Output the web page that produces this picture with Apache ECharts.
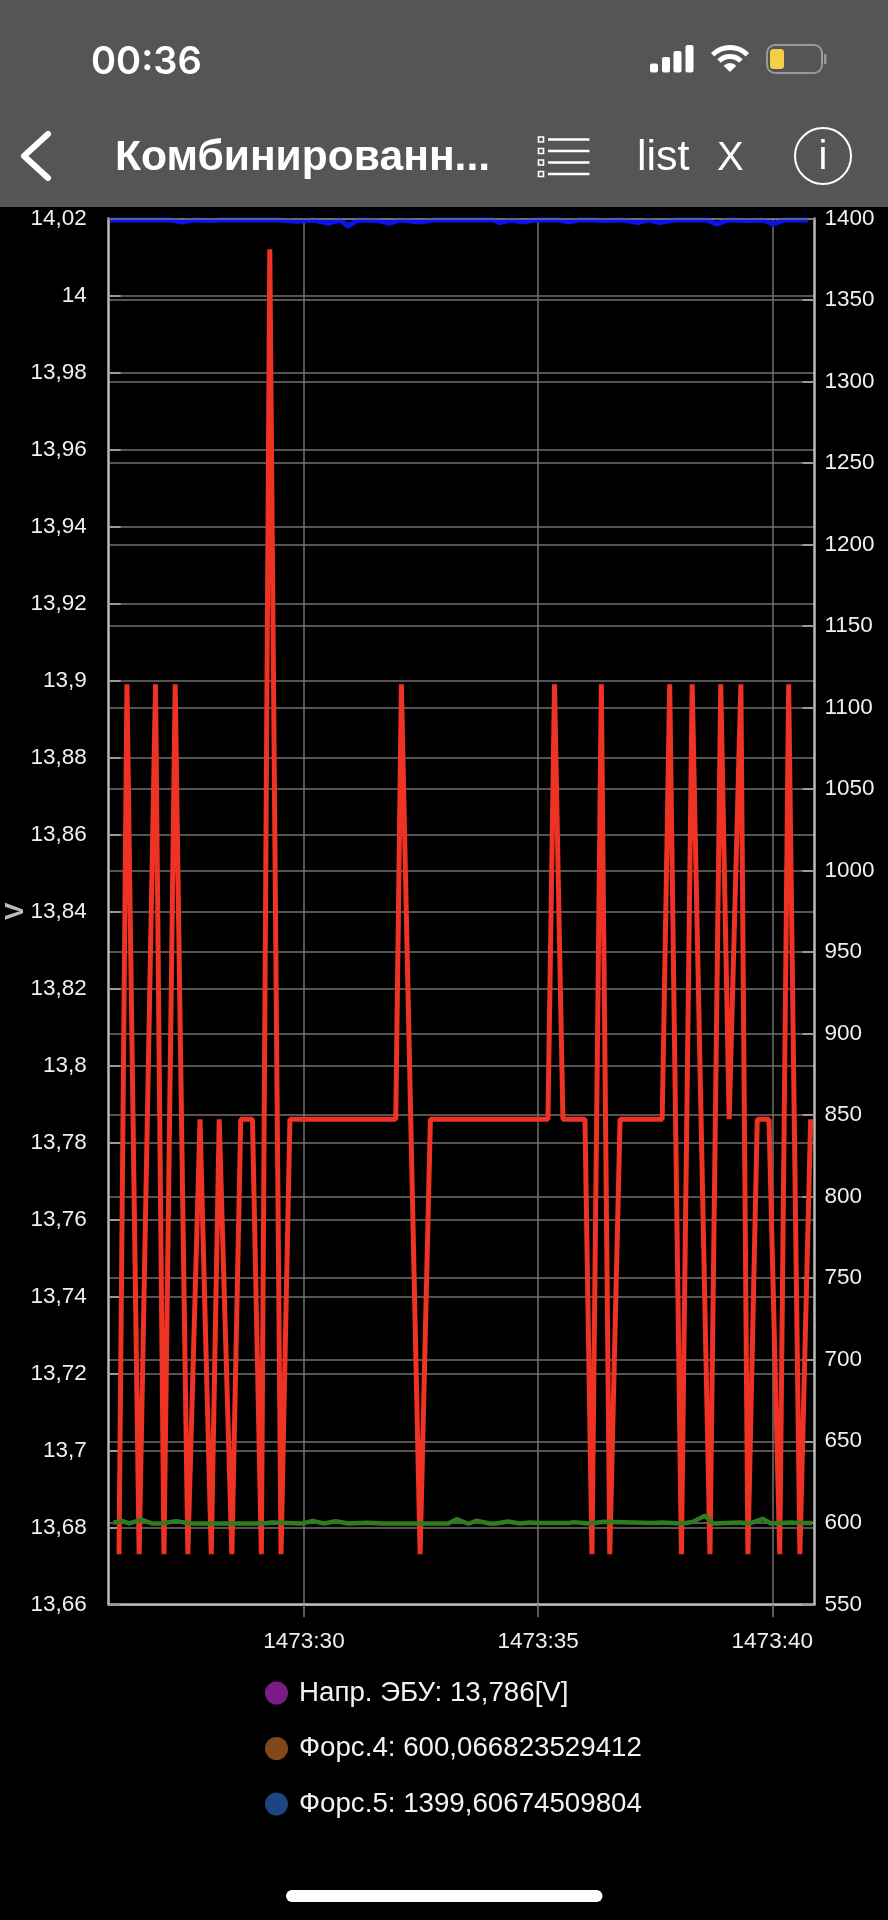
<!DOCTYPE html>
<html>
<head>
<meta charset="utf-8">
<style>html,body{margin:0;padding:0;background:#000}#c{width:888px;height:1920px}</style>
<script src="https://cdn.jsdelivr.net/npm/echarts@6/dist/echarts.min.js"></script>
</head>
<body>
<div id="c"></div>
<script>
// Seconds past minute 1473
const voltTimes = [26.05,26.22,26.48,26.83,27.01,27.25,27.52,27.78,28.02,28.19,28.46,28.65,28.90,29.09,29.27,29.51,29.70,31.96,32.08,32.48,32.70,35.21,35.35,35.53,36.00,36.15,36.35,36.53,36.75,37.65,37.81,38.06,38.29,38.67,38.90,39.08,39.33,39.48,39.68,39.93,40.16,40.35,40.59,40.82];
const voltValues = [13.673,13.899,13.673,13.899,13.673,13.899,13.673,13.786,13.673,13.786,13.673,13.786,13.786,13.673,14.012,13.673,13.786,13.786,13.899,13.673,13.786,13.786,13.899,13.786,13.786,13.673,13.899,13.673,13.786,13.786,13.899,13.673,13.899,13.673,13.899,13.786,13.899,13.673,13.786,13.786,13.673,13.899,13.673,13.786];
const inj4Times = [25.93,26.11,26.27,26.53,26.75,26.96,27.27,27.57,29.13,29.31,29.98,30.18,30.43,30.68,30.94,31.34,31.69,33.08,33.26,33.51,33.68,33.97,34.11,34.36,34.61,34.82,35.0,35.64,35.75,36.07,36.42,37.45,37.63,38.09,38.31,38.56,38.74,39.31,39.52,39.80,39.98,40.37,40.58,40.85];
const inj4Values = [600.0,601.2,599.6,602.0,599.6,599.6,601.0,599.6,599.6,600.2,599.6,601.2,599.6,601.0,599.6,600.0,599.6,599.6,602.2,599.4,601.2,599.6,599.6,600.8,599.6,600.2,599.8,599.8,600.4,599.6,600.6,599.8,600.2,599.6,600.6,604.3,599.6,600.2,599.6,602.4,599.6,600.2,599.8,599.8];
const inj5Times = [25.86,27.17,27.39,27.64,28.06,28.2,29.42,29.84,30.2,30.52,30.77,30.94,31.16,31.55,31.83,32.05,32.47,32.76,34.04,34.18,34.43,34.68,34.93,35.46,35.64,35.89,36.17,36.39,36.81,37.13,37.35,37.60,37.92,38.59,38.81,39.06,39.52,39.80,40.01,40.26,40.76];
const inj5Values = [1399.1,1399.1,1397.9,1399.1,1398.7,1399.1,1399.1,1398.3,1399.1,1397.1,1399.1,1395.4,1399.1,1398.7,1397.1,1399.1,1397.9,1399.1,1399.1,1397.5,1399.1,1397.9,1399.1,1399.1,1397.9,1399.1,1399.1,1398.7,1399.1,1397.5,1399.0,1397.5,1399.1,1399.1,1396.6,1399.1,1398.7,1399.1,1396.6,1399.1,1399.1];
const xTicks = [30,35,40];
const minuteLabel = '1473';
const seriesNames = ['Напр. ЭБУ: 13,786[V]','Форс.4: 600,066823529412','Форс.5: 1399,60674509804'];
const legendColors = ['#7B1C86','#82481C','#1C4680'];
const lineColors = ['#EE3224','#2E7D1F','#0A14F0'];

const zip = (a,b) => a.map((v,i)=>[v,b[i]]);
const white='#fff', hdr='#555555', FONT='"Liberation Sans",sans-serif';
const lineCom={color:'#707070',width:1.5};
const comma=v=>String(+(+v).toFixed(2)).replace('.',',');

const chart=echarts.init(document.getElementById('c'),null,{renderer:'canvas',width:888,height:1920});
const g=[];
g.push({type:'rect',shape:{x:0,y:0,width:888,height:207},style:{fill:hdr},z:10});
g.push({type:'text',x:91,y:62.5,z:11,style:{text:'00:36',fill:white,font:'600 38px Inter',textVerticalAlign:'middle'}});
[[650,63.5],[662,57],[673.5,51],[685.5,45]].forEach(b=>g.push({type:'rect',z:11,shape:{x:b[0],y:b[1],width:8,height:72.5-b[1],r:2},style:{fill:white}}));
g.push({type:'arc',z:11,shape:{cx:730,cy:72,r:24.5,startAngle:-Math.PI*0.75,endAngle:-Math.PI*0.25},style:{stroke:white,lineWidth:5,fill:null}});
g.push({type:'arc',z:11,shape:{cx:730,cy:72,r:15.5,startAngle:-Math.PI*0.75,endAngle:-Math.PI*0.25},style:{stroke:white,lineWidth:5,fill:null}});
g.push({type:'sector',z:11,shape:{cx:730,cy:72,r0:0,r:9,startAngle:-Math.PI*0.75,endAngle:-Math.PI*0.25},style:{fill:white}});
g.push({type:'rect',z:11,shape:{x:767,y:45,width:55,height:28,r:8},style:{stroke:'#999',lineWidth:2,fill:null}});
g.push({type:'rect',z:11,shape:{x:770,y:49,width:14,height:20,r:3.5},style:{fill:'#F5CF45'}});
g.push({type:'rect',z:11,shape:{x:824,y:54,width:2.5,height:10,r:1},style:{fill:'#999'}});
g.push({type:'polyline',z:11,shape:{points:[[48,134],[24,156],[48,178]]},style:{stroke:white,lineWidth:6,fill:null,lineCap:'round',lineJoin:'round'}});
g.push({type:'text',x:115,y:158.5,z:11,style:{text:'Комбинированн...',fill:white,font:'bold 42.6px '+FONT,textVerticalAlign:'middle'}});
[139.5,151,162.5,174].forEach(y=>{
  g.push({type:'rect',z:11,shape:{x:538.5,y:y-2.5,width:5,height:5},style:{stroke:white,lineWidth:1.6,fill:null}});
  g.push({type:'line',z:11,shape:{x1:548,y1:y,x2:589.5,y2:y},style:{stroke:white,lineWidth:2.4}});
});
g.push({type:'text',x:637,y:158.5,z:11,style:{text:'list',fill:white,font:'43px '+FONT,textVerticalAlign:'middle'}});
g.push({type:'text',x:717,y:158.5,z:11,style:{text:'X',fill:white,font:'40px '+FONT,textVerticalAlign:'middle'}});
g.push({type:'circle',z:11,shape:{cx:823,cy:156,r:28},style:{stroke:white,lineWidth:2,fill:null}});
g.push({type:'text',x:823,y:158,z:11,style:{text:'i',fill:white,font:'40px '+FONT,textAlign:'center',textVerticalAlign:'middle'}});
g.push({type:'rect',z:11,shape:{x:286,y:1890,width:316.5,height:12,r:6},style:{fill:white}});

chart.setOption({
  animation:false,
  backgroundColor:'#000',
  textStyle:{fontFamily:FONT},
  grid:{left:108.7,right:73.6,top:218.5,bottom:315.7,outerBoundsMode:'none'},
  legend:{
    orient:'vertical',left:260,top:1674,itemWidth:35,itemHeight:23,itemGap:27.5,
    selectedMode:false,
    textStyle:{color:'#f2f2f2',fontSize:27.7,lineHeight:23,fontFamily:FONT},
    data:seriesNames.map((n,i)=>({name:n,icon:'circle',itemStyle:{color:legendColors[i],borderWidth:0}}))
  },
  xAxis:[{
    type:'value',min:25.83,max:40.9,interval:5,position:'bottom',
    axisLine:{lineStyle:{color:'#bbb',width:2.5}},
    axisTick:{length:13,customValues:xTicks,lineStyle:{color:'#777',width:1.5}},
    axisLabel:{customValues:xTicks,margin:26,color:'#f0f0f0',fontSize:22.5,formatter:v=>minuteLabel+':'+v},
    splitLine:{show:true,lineStyle:lineCom}
  },{
    type:'value',min:25.83,max:40.9,position:'top',z:5,
    axisLine:{show:true,lineStyle:{color:'#777',width:1.5}},
    axisTick:{show:false},axisLabel:{show:false},splitLine:{show:false}
  }],
  yAxis:[{
    type:'value',min:13.66,max:14.02,interval:0.02,position:'left',
    name:'V',nameLocation:'middle',nameRotate:90,nameGap:80,nameMoveOverlap:false,
    nameTextStyle:{color:'#bbb',fontSize:26,fontWeight:'bold'},
    axisLine:{show:true,lineStyle:{color:'#bbb',width:2.5}},
    axisTick:{show:true,inside:true,length:12,lineStyle:{color:'#999',width:2}},
    axisLabel:{margin:22,color:'#f0f0f0',fontSize:22.5,padding:[4,0,0,0],formatter:comma},
    splitLine:{show:true,lineStyle:lineCom}
  },{
    type:'value',min:550,max:1400,interval:50,position:'right',
    axisLine:{show:true,lineStyle:{color:'#bbb',width:2.5}},
    axisTick:{show:true,inside:true,length:12,lineStyle:{color:'#999',width:2}},
    axisLabel:{margin:10,color:'#f0f0f0',fontSize:22.5,padding:[4,0,0,0],formatter:v=>String(v)},
    splitLine:{show:true,lineStyle:lineCom}
  }],
  series:[
    {name:seriesNames[0],type:'line',yAxisIndex:0,showSymbol:false,symbol:'none',z:3,
     lineStyle:{color:lineColors[0],width:5,join:'bevel',cap:'butt'},itemStyle:{color:lineColors[0]},
     data:zip(voltTimes,voltValues)},
    {name:seriesNames[1],type:'line',yAxisIndex:1,showSymbol:false,symbol:'none',z:4,
     lineStyle:{color:lineColors[1],width:4.5,join:'round'},itemStyle:{color:lineColors[1]},
     data:zip(inj4Times,inj4Values)},
    {name:seriesNames[2],type:'line',yAxisIndex:1,showSymbol:false,symbol:'none',z:3,
     lineStyle:{color:lineColors[2],width:5,join:'round'},itemStyle:{color:lineColors[2]},
     data:zip(inj5Times,inj5Values)}
  ],
  graphic:g
});
</script>
</body>
</html>
